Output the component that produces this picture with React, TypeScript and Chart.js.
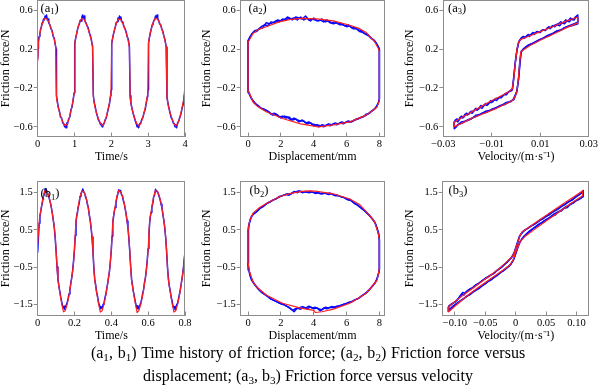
import { useEffect, useRef } from "react";
import { Chart, registerables } from "chart.js";
Chart.register(...registerables);

type Pt = [number, number];

const FONT = '"Liberation Serif", "Times New Roman", serif';
const GRAY = "#8c8c8c";
const BLUE = "#0a0aff";
const RED = "#ff2020";
const W = 600;
const H = 392;

// ---------- tick values / labels ----------
const aTimeTicks = [0, 1, 2, 3, 4];
const aTimeLabels = ["0", "1", "2", "3", "4"];
const bTimeTicks = [0, 0.2, 0.4, 0.6, 0.8];
const bTimeLabels = ["0", "0.2", "0.4", "0.6", "0.8"];
const dispTicks = [0, 2, 4, 6, 8];
const dispLabels = ["0", "2", "4", "6", "8"];
const aVelTicks = [-0.03, -0.01, 0.01, 0.03];
const aVelLabels = ["\u22120.03", "\u22120.01", "0.01", "0.03"];
const bVelTicks = [-0.1, -0.05, 0, 0.05, 0.1];
const bVelLabels = ["\u22120.10", "\u22120.05", "0", "0.05", "0.10"];
const aForceTicks = [-0.6, -0.2, 0.2, 0.6];
const aForceLabels = ["\u22120.6", "\u22120.2", "0.2", "0.6"];
const bForceTicks = [-1.5, -0.5, 0.5, 1.5];
const bForceLabels = ["\u22121.5", "\u22120.5", "0.5", "1.5"];

// ---------- (a1) time history, fitted (red) ----------
const a1Red: Pt[] = [
  [0, 0.08], [0.02, 0.27], [0.05, 0.34], [0.1, 0.43], [0.15, 0.49], [0.2, 0.52], [0.25, 0.51], [0.3, 0.48], [0.35, 0.43], [0.4, 0.37], [0.45, 0.3], [0.49, 0.22],
  [0.51, -0.3], [0.55, -0.39], [0.6, -0.46], [0.65, -0.52], [0.7, -0.565], [0.75, -0.59], [0.8, -0.57], [0.85, -0.52], [0.9, -0.44], [0.95, -0.35], [0.99, -0.25],
  [1.01, 0.27], [1.05, 0.35], [1.1, 0.43], [1.15, 0.49], [1.2, 0.515], [1.25, 0.51], [1.3, 0.475], [1.35, 0.43], [1.4, 0.37], [1.45, 0.3], [1.49, 0.22],
  [1.51, -0.29], [1.55, -0.39], [1.6, -0.46], [1.65, -0.52], [1.7, -0.56], [1.75, -0.585], [1.8, -0.565], [1.85, -0.515], [1.9, -0.44], [1.95, -0.35], [1.99, -0.25],
  [2.01, 0.27], [2.05, 0.34], [2.1, 0.42], [2.15, 0.48], [2.2, 0.51], [2.25, 0.505], [2.3, 0.475], [2.35, 0.43], [2.4, 0.37], [2.45, 0.3], [2.49, 0.22],
  [2.51, -0.3], [2.55, -0.4], [2.6, -0.47], [2.65, -0.53], [2.7, -0.575], [2.75, -0.59], [2.8, -0.565], [2.85, -0.51], [2.9, -0.44], [2.95, -0.35], [2.99, -0.25],
  [3.01, 0.27], [3.05, 0.35], [3.1, 0.43], [3.15, 0.49], [3.2, 0.52], [3.25, 0.51], [3.3, 0.48], [3.35, 0.43], [3.4, 0.37], [3.45, 0.3], [3.49, 0.22],
  [3.51, -0.3], [3.55, -0.39], [3.6, -0.46], [3.65, -0.52], [3.7, -0.565], [3.75, -0.59], [3.8, -0.57], [3.85, -0.52], [3.9, -0.44], [3.95, -0.35], [4.0, -0.24],
];

// ---------- (a1) time history, measured (blue) ----------
const a1Blue: Pt[] = [
  [0, 0.1], [0.01, 0.2], [0.02, 0.29], [0.04, 0.33], [0.06, 0.36], [0.08, 0.41], [0.1, 0.43], [0.12, 0.47], [0.14, 0.48], [0.16, 0.51], [0.18, 0.5], [0.2, 0.54], [0.22, 0.52], [0.24, 0.55], [0.26, 0.5], [0.28, 0.51], [0.3, 0.47], [0.33, 0.45], [0.36, 0.41], [0.39, 0.39], [0.42, 0.33], [0.45, 0.31], [0.48, 0.24], [0.5, 0.2],
  [0.51, -0.28], [0.53, -0.33], [0.56, -0.4], [0.59, -0.44], [0.62, -0.5], [0.65, -0.51], [0.68, -0.56], [0.71, -0.57], [0.73, -0.6], [0.75, -0.58], [0.77, -0.61], [0.79, -0.56], [0.81, -0.57], [0.84, -0.52], [0.87, -0.5], [0.9, -0.43], [0.93, -0.4], [0.96, -0.33], [0.99, -0.25],
  [1.0, -0.22], [1.01, 0.25], [1.03, 0.31], [1.06, 0.36], [1.08, 0.4], [1.11, 0.44], [1.13, 0.46], [1.16, 0.5], [1.18, 0.49], [1.2, 0.53], [1.22, 0.55], [1.24, 0.52], [1.26, 0.54], [1.28, 0.49], [1.31, 0.47], [1.34, 0.44], [1.37, 0.42], [1.4, 0.37], [1.43, 0.34], [1.46, 0.29], [1.49, 0.23],
  [1.51, -0.27], [1.53, -0.34], [1.56, -0.39], [1.59, -0.45], [1.62, -0.49], [1.65, -0.53], [1.68, -0.55], [1.71, -0.58], [1.73, -0.57], [1.75, -0.6], [1.77, -0.58], [1.8, -0.57], [1.83, -0.53], [1.86, -0.51], [1.89, -0.46], [1.92, -0.41], [1.95, -0.36], [1.98, -0.28], [1.99, -0.24],
  [2.0, -0.22], [2.01, 0.26], [2.03, 0.3], [2.06, 0.36], [2.08, 0.39], [2.11, 0.43], [2.13, 0.47], [2.16, 0.48], [2.18, 0.52], [2.2, 0.5], [2.22, 0.54], [2.24, 0.51], [2.26, 0.53], [2.28, 0.48], [2.31, 0.48], [2.34, 0.43], [2.37, 0.41], [2.4, 0.38], [2.43, 0.33], [2.46, 0.3], [2.49, 0.23],
  [2.51, -0.28], [2.53, -0.35], [2.56, -0.41], [2.59, -0.46], [2.62, -0.5], [2.65, -0.54], [2.68, -0.57], [2.7, -0.6], [2.72, -0.58], [2.74, -0.61], [2.77, -0.57], [2.8, -0.56], [2.83, -0.52], [2.86, -0.5], [2.89, -0.45], [2.92, -0.42], [2.95, -0.35], [2.98, -0.29], [2.99, -0.24],
  [3.0, -0.22], [3.01, 0.26], [3.03, 0.31], [3.06, 0.37], [3.08, 0.4], [3.11, 0.45], [3.13, 0.46], [3.16, 0.5], [3.18, 0.51], [3.2, 0.54], [3.22, 0.52], [3.24, 0.55], [3.26, 0.51], [3.28, 0.5], [3.31, 0.46], [3.34, 0.45], [3.37, 0.41], [3.4, 0.38], [3.43, 0.33], [3.46, 0.29], [3.49, 0.22],
  [3.51, -0.29], [3.53, -0.34], [3.56, -0.4], [3.59, -0.45], [3.62, -0.5], [3.65, -0.52], [3.68, -0.56], [3.71, -0.57], [3.73, -0.6], [3.75, -0.58], [3.77, -0.61], [3.8, -0.56], [3.83, -0.54], [3.86, -0.5], [3.89, -0.47], [3.92, -0.41], [3.95, -0.37], [3.98, -0.28], [4.0, -0.2],
];

// ---------- (a2) force vs displacement ----------
const a2Red: Pt[] = [
  [0, -0.21], [0, 0.27], [0.3, 0.36], [0.6, 0.4], [1.1, 0.43], [1.9, 0.48], [2.6, 0.505], [3.2, 0.515], [4.2, 0.51], [5.2, 0.49], [6.2, 0.445], [6.8, 0.41], [7.2, 0.37], [7.7, 0.28], [7.95, 0.2], [8, 0.18],
  [8, -0.33], [7.85, -0.4], [7.2, -0.48], [6.2, -0.55], [5.2, -0.58], [4.3, -0.6], [3.2, -0.57], [2.1, -0.515], [1.1, -0.445], [0.5, -0.38], [0.3, -0.345], [0.05, -0.24], [0, -0.21],
];
const a2BlueCycle1: Pt[] = [
  [0, -0.22], [0, 0.28], [0.15, 0.33], [0.3, 0.37], [0.5, 0.38], [0.7, 0.41], [0.9, 0.42], [1.1, 0.47], [1.3, 0.46], [1.5, 0.47], [1.7, 0.49], [1.9, 0.48], [2.1, 0.51], [2.3, 0.5], [2.5, 0.52], [2.7, 0.5], [2.9, 0.53], [3.1, 0.52], [3.3, 0.51], [3.5, 0.54], [3.7, 0.5], [3.9, 0.51], [4.1, 0.5], [4.3, 0.49], [4.5, 0.51], [4.7, 0.48], [4.9, 0.49], [5.1, 0.47], [5.3, 0.48], [5.5, 0.46], [5.7, 0.46], [5.9, 0.44], [6.1, 0.45], [6.3, 0.42], [6.5, 0.42], [6.7, 0.4], [6.9, 0.39], [7.1, 0.36], [7.3, 0.35], [7.5, 0.31], [7.7, 0.29], [7.85, 0.25], [7.95, 0.22], [8, 0.19],
  [8, -0.32], [7.9, -0.37], [7.7, -0.42], [7.5, -0.44], [7.3, -0.47], [7.1, -0.49], [6.9, -0.5], [6.7, -0.52], [6.5, -0.53], [6.3, -0.55], [6.1, -0.54], [5.9, -0.56], [5.7, -0.55], [5.5, -0.57], [5.3, -0.56], [5.1, -0.58], [4.9, -0.57], [4.7, -0.59], [4.5, -0.58], [4.3, -0.6], [4.1, -0.58], [3.9, -0.57], [3.7, -0.55], [3.5, -0.56], [3.3, -0.53], [3.1, -0.55], [2.9, -0.52], [2.7, -0.53], [2.5, -0.5], [2.3, -0.51], [2.1, -0.49], [1.9, -0.5], [1.7, -0.47], [1.5, -0.48], [1.3, -0.45], [1.1, -0.43], [0.9, -0.42], [0.7, -0.4], [0.5, -0.37], [0.3, -0.33], [0.15, -0.29], [0.05, -0.25], [0, -0.22],
];
const a2BlueCycle2: Pt[] = [
  [0, 0.29], [0.1, 0.32], [0.2, 0.35], [0.4, 0.39], [0.6, 0.4], [0.8, 0.43], [1.0, 0.45], [1.2, 0.44], [1.4, 0.48], [1.6, 0.47], [1.8, 0.5], [2.0, 0.49], [2.2, 0.5], [2.4, 0.53], [2.6, 0.51], [2.8, 0.52], [3.0, 0.5], [3.2, 0.53], [3.4, 0.5], [3.6, 0.52], [3.8, 0.49], [4.0, 0.52], [4.2, 0.49], [4.4, 0.5], [4.6, 0.48], [4.8, 0.5], [5.0, 0.47], [5.2, 0.46], [5.4, 0.47], [5.6, 0.45], [5.8, 0.45], [6.0, 0.43], [6.2, 0.44], [6.4, 0.41], [6.6, 0.41], [6.8, 0.38], [7.0, 0.37], [7.2, 0.35], [7.4, 0.33], [7.6, 0.3], [7.8, 0.26], [7.9, 0.23], [8, 0.2],
  [8, -0.31], [7.95, -0.35], [7.8, -0.4], [7.6, -0.43], [7.4, -0.46], [7.2, -0.47], [7.0, -0.5], [6.8, -0.51], [6.6, -0.52], [6.4, -0.54], [6.2, -0.55], [6.0, -0.55], [5.8, -0.57], [5.6, -0.56], [5.4, -0.58], [5.2, -0.57], [5.0, -0.59], [4.8, -0.58], [4.6, -0.6], [4.4, -0.59], [4.2, -0.58], [4.0, -0.59], [3.8, -0.56], [3.6, -0.57], [3.4, -0.54], [3.2, -0.54], [3.0, -0.53], [2.8, -0.51], [2.6, -0.53], [2.4, -0.5], [2.2, -0.49], [2.0, -0.51], [1.8, -0.48], [1.6, -0.46], [1.4, -0.47], [1.2, -0.44], [1.0, -0.42], [0.8, -0.41], [0.6, -0.38], [0.4, -0.36], [0.2, -0.31], [0.1, -0.27], [0, -0.23], [0, 0.29],
];

// ---------- (a3) force vs velocity ----------
const a3Red: Pt[] = [
  [-0.0015, -0.21], [-0.0009, -0.1], [-0.0003, 0.05], [0.0004, 0.2], [0.001, 0.27], [0.002, 0.3], [0.005, 0.33], [0.01, 0.38], [0.015, 0.43], [0.02, 0.48], [0.0255, 0.53],
  [0.0255, 0.47], [0.02, 0.41], [0.015, 0.35], [0.01, 0.29], [0.006, 0.24], [0.003, 0.19], [0.002, 0.17], [0.0016, 0.08], [0.001, -0.1], [0.0003, -0.25], [-0.001, -0.32],
  [-0.003, -0.35], [-0.008, -0.41], [-0.013, -0.46], [-0.018, -0.51], [-0.022, -0.56], [-0.0255, -0.6],
  [-0.0255, -0.55], [-0.02, -0.47], [-0.015, -0.4], [-0.01, -0.33], [-0.006, -0.28], [-0.003, -0.24], [-0.0015, -0.21],
];
const a3BlueCycle1: Pt[] = [
  [-0.0015, -0.22], [-0.001, -0.12], [-0.0004, 0.04], [0.0003, 0.18], [0.001, 0.26], [0.002, 0.31], [0.003, 0.33], [0.004, 0.32], [0.005, 0.35], [0.006, 0.34], [0.007, 0.37], [0.008, 0.36], [0.009, 0.38], [0.01, 0.37], [0.011, 0.4], [0.012, 0.39], [0.013, 0.42], [0.014, 0.41], [0.015, 0.44], [0.016, 0.43], [0.017, 0.45], [0.018, 0.44], [0.019, 0.47], [0.02, 0.46], [0.021, 0.49], [0.022, 0.48], [0.023, 0.51], [0.024, 0.5], [0.025, 0.54], [0.0255, 0.52],
  [0.0255, 0.48], [0.024, 0.46], [0.022, 0.44], [0.02, 0.42], [0.018, 0.39], [0.016, 0.37], [0.014, 0.34], [0.012, 0.32], [0.01, 0.3], [0.008, 0.27], [0.006, 0.25], [0.004, 0.22], [0.003, 0.2], [0.002, 0.16], [0.0015, 0.05], [0.001, -0.12], [0.0003, -0.24], [-0.001, -0.31],
  [-0.002, -0.34], [-0.004, -0.35], [-0.006, -0.38], [-0.008, -0.4], [-0.01, -0.42], [-0.012, -0.45], [-0.014, -0.46], [-0.016, -0.49], [-0.018, -0.51], [-0.02, -0.53], [-0.022, -0.56], [-0.024, -0.58], [-0.025, -0.61], [-0.0255, -0.59],
  [-0.0255, -0.55], [-0.025, -0.53], [-0.024, -0.55], [-0.023, -0.5], [-0.022, -0.51], [-0.021, -0.47], [-0.02, -0.48], [-0.019, -0.45], [-0.018, -0.46], [-0.017, -0.42], [-0.016, -0.43], [-0.015, -0.4], [-0.014, -0.41], [-0.013, -0.37], [-0.012, -0.38], [-0.011, -0.35], [-0.01, -0.35], [-0.009, -0.32], [-0.008, -0.33], [-0.007, -0.3], [-0.006, -0.3], [-0.005, -0.27], [-0.004, -0.27], [-0.003, -0.24], [-0.002, -0.23], [-0.0015, -0.22],
];
const a3BlueCycle2: Pt[] = [
  [-0.0015, -0.21], [-0.0009, -0.08], [-0.0002, 0.08], [0.0005, 0.2], [0.0012, 0.28], [0.0025, 0.32], [0.0035, 0.31], [0.0045, 0.34], [0.0055, 0.33], [0.0065, 0.36], [0.0075, 0.35], [0.0085, 0.38], [0.0095, 0.37], [0.0105, 0.39], [0.0115, 0.4], [0.0125, 0.4], [0.0135, 0.43], [0.0145, 0.42], [0.0155, 0.44], [0.0165, 0.45], [0.0175, 0.46], [0.0185, 0.48], [0.0195, 0.47], [0.0205, 0.5], [0.0215, 0.49], [0.0225, 0.52], [0.0235, 0.5], [0.0245, 0.53], [0.0255, 0.55],
  [0.0255, 0.46], [0.023, 0.44], [0.021, 0.43], [0.019, 0.4], [0.017, 0.39], [0.015, 0.36], [0.013, 0.34], [0.011, 0.31], [0.009, 0.29], [0.007, 0.26], [0.005, 0.24], [0.0035, 0.21], [0.0022, 0.18], [0.0017, 0.06], [0.0011, -0.1], [0.0004, -0.23], [-0.0008, -0.32],
  [-0.0025, -0.34], [-0.0045, -0.37], [-0.0065, -0.38], [-0.0085, -0.41], [-0.0105, -0.43], [-0.0125, -0.44], [-0.0145, -0.47], [-0.0165, -0.48], [-0.0185, -0.52], [-0.0205, -0.54], [-0.0225, -0.55], [-0.0245, -0.59], [-0.0255, -0.62],
  [-0.0255, -0.56], [-0.0245, -0.52], [-0.0235, -0.53], [-0.0225, -0.49], [-0.0215, -0.5], [-0.0205, -0.46], [-0.0195, -0.47], [-0.0185, -0.44], [-0.0175, -0.44], [-0.0165, -0.41], [-0.0155, -0.42], [-0.0145, -0.38], [-0.0135, -0.39], [-0.0125, -0.36], [-0.0115, -0.37], [-0.0105, -0.33], [-0.0095, -0.34], [-0.0085, -0.31], [-0.0075, -0.31], [-0.0065, -0.29], [-0.0055, -0.28], [-0.0045, -0.26], [-0.0035, -0.25], [-0.0025, -0.23], [-0.0015, -0.21],
];

// ---------- (b1) time history ----------
const b1Red: Pt[] = [
  [0, 0.15], [0.005, 0.5], [0.01, 0.82], [0.02, 1.12], [0.03, 1.4], [0.04, 1.56], [0.05, 1.53], [0.06, 1.42], [0.07, 1.22], [0.08, 0.93], [0.09, 0.58], [0.095, 0.32], [0.1, -0.05], [0.105, -0.52], [0.11, -0.86], [0.12, -1.18], [0.13, -1.47], [0.14, -1.7], [0.15, -1.67], [0.16, -1.5], [0.17, -1.25], [0.18, -0.95], [0.19, -0.6], [0.195, -0.35],
  [0.2, 0.0], [0.205, 0.5], [0.21, 0.82], [0.22, 1.12], [0.23, 1.4], [0.24, 1.55], [0.25, 1.53], [0.26, 1.42], [0.27, 1.22], [0.28, 0.93], [0.29, 0.58], [0.295, 0.32], [0.3, -0.05], [0.305, -0.52], [0.31, -0.86], [0.32, -1.18], [0.33, -1.47], [0.34, -1.71], [0.35, -1.67], [0.36, -1.5], [0.37, -1.25], [0.38, -0.95], [0.39, -0.6], [0.395, -0.35],
  [0.4, 0.0], [0.405, 0.5], [0.41, 0.82], [0.42, 1.12], [0.43, 1.4], [0.44, 1.56], [0.45, 1.52], [0.46, 1.42], [0.47, 1.22], [0.48, 0.93], [0.49, 0.58], [0.495, 0.32], [0.5, -0.05], [0.505, -0.52], [0.51, -0.86], [0.52, -1.18], [0.53, -1.47], [0.54, -1.72], [0.55, -1.66], [0.56, -1.5], [0.57, -1.25], [0.58, -0.95], [0.59, -0.6], [0.595, -0.35],
  [0.6, 0.0], [0.605, 0.5], [0.61, 0.82], [0.62, 1.12], [0.63, 1.4], [0.64, 1.56], [0.65, 1.53], [0.66, 1.42], [0.67, 1.22], [0.68, 0.93], [0.69, 0.58], [0.695, 0.32], [0.7, -0.05], [0.705, -0.52], [0.71, -0.86], [0.72, -1.18], [0.73, -1.47], [0.74, -1.71], [0.75, -1.67], [0.76, -1.5], [0.77, -1.25], [0.78, -0.95], [0.79, -0.6], [0.795, -0.35], [0.8, -0.05],
];
const b1Blue: Pt[] = [
  [0, -0.1], [0.004, 0.3], [0.008, 0.68], [0.012, 0.86], [0.016, 0.98], [0.02, 1.1], [0.025, 1.22], [0.03, 1.38], [0.035, 1.45], [0.04, 1.6], [0.045, 1.52], [0.05, 1.55], [0.055, 1.46], [0.06, 1.4], [0.065, 1.3], [0.07, 1.2], [0.075, 1.08], [0.08, 0.92], [0.085, 0.75], [0.09, 0.56], [0.095, 0.28], [0.1, -0.08], [0.105, -0.5], [0.11, -0.82], [0.115, -1.0], [0.12, -1.15], [0.125, -1.3], [0.13, -1.42], [0.135, -1.55], [0.14, -1.6], [0.143, -1.55], [0.146, -1.63], [0.15, -1.58], [0.155, -1.52], [0.16, -1.46], [0.165, -1.35], [0.17, -1.22], [0.175, -1.1], [0.18, -0.92], [0.185, -0.78], [0.19, -0.58], [0.195, -0.32],
  [0.2, 0.0], [0.204, 0.35], [0.208, 0.7], [0.212, 0.88], [0.216, 0.96], [0.22, 1.12], [0.225, 1.2], [0.23, 1.4], [0.235, 1.47], [0.24, 1.52], [0.245, 1.6], [0.25, 1.52], [0.255, 1.48], [0.26, 1.38], [0.265, 1.32], [0.27, 1.18], [0.275, 1.1], [0.28, 0.9], [0.285, 0.76], [0.29, 0.55], [0.295, 0.3], [0.3, -0.06], [0.305, -0.52], [0.31, -0.84], [0.315, -0.98], [0.32, -1.17], [0.325, -1.28], [0.33, -1.44], [0.335, -1.52], [0.34, -1.62], [0.343, -1.56], [0.346, -1.6], [0.35, -1.6], [0.355, -1.5], [0.36, -1.47], [0.365, -1.33], [0.37, -1.23], [0.375, -1.08], [0.38, -0.94], [0.385, -0.76], [0.39, -0.6], [0.395, -0.33],
  [0.4, -0.02], [0.404, 0.33], [0.408, 0.7], [0.412, 0.85], [0.416, 0.99], [0.42, 1.1], [0.425, 1.23], [0.43, 1.37], [0.435, 1.46], [0.44, 1.58], [0.445, 1.53], [0.45, 1.56], [0.455, 1.45], [0.46, 1.41], [0.465, 1.29], [0.47, 1.2], [0.475, 1.07], [0.48, 0.93], [0.485, 0.74], [0.49, 0.57], [0.495, 0.27], [0.5, -0.08], [0.505, -0.49], [0.51, -0.83], [0.515, -1.0], [0.52, -1.16], [0.525, -1.29], [0.53, -1.43], [0.535, -1.54], [0.54, -1.61], [0.543, -1.54], [0.546, -1.62], [0.55, -1.57], [0.555, -1.53], [0.56, -1.45], [0.565, -1.36], [0.57, -1.21], [0.575, -1.11], [0.58, -0.91], [0.585, -0.79], [0.59, -0.57], [0.595, -0.31],
  [0.6, 0.0], [0.604, 0.34], [0.608, 0.69], [0.612, 0.87], [0.616, 0.97], [0.62, 1.11], [0.625, 1.21], [0.63, 1.39], [0.635, 1.44], [0.64, 1.59], [0.645, 1.53], [0.65, 1.54], [0.655, 1.47], [0.66, 1.39], [0.665, 1.31], [0.67, 1.19], [0.675, 1.09], [0.68, 0.91], [0.685, 0.76], [0.69, 0.55], [0.695, 0.29], [0.7, -0.07], [0.705, -0.51], [0.71, -0.81], [0.715, -1.01], [0.72, -1.14], [0.725, -1.31], [0.73, -1.41], [0.735, -1.56], [0.74, -1.59], [0.743, -1.56], [0.746, -1.64], [0.75, -1.57], [0.755, -1.51], [0.76, -1.47], [0.765, -1.34], [0.77, -1.23], [0.775, -1.09], [0.78, -0.93], [0.785, -0.77], [0.79, -0.59], [0.795, -0.33], [0.8, -0.1],
];

// ---------- (b2) force vs displacement ----------
const b2Red: Pt[] = [
  [0, -0.35], [0, 0.5], [0.1, 0.75], [0.3, 0.95], [0.7, 1.1], [1.1, 1.21], [1.9, 1.39], [2.6, 1.48], [3.2, 1.53], [3.6, 1.55], [4.1, 1.54], [5.2, 1.47], [6.2, 1.33], [6.8, 1.18], [7.2, 0.99], [7.7, 0.73], [7.92, 0.42], [8, 0.25],
  [8, -0.55], [7.85, -0.86], [7.2, -1.2], [6.2, -1.47], [5.2, -1.63], [4.5, -1.7], [4.1, -1.72], [4.0, -1.66], [3.2, -1.6], [2.1, -1.47], [1.1, -1.25], [0.5, -1.02], [0.3, -0.9], [0.07, -0.59], [0, -0.35],
];
const b2BlueCycle1: Pt[] = [
  [0, -0.4], [0, 0.45], [0.05, 0.6], [0.15, 0.8], [0.3, 0.92], [0.5, 0.98], [0.7, 1.08], [0.9, 1.12], [1.1, 1.2], [1.3, 1.24], [1.5, 1.3], [1.7, 1.33], [1.9, 1.4], [2.1, 1.42], [2.3, 1.45], [2.5, 1.43], [2.7, 1.5], [2.9, 1.52], [3.1, 1.55], [3.3, 1.5], [3.5, 1.53], [3.7, 1.5], [3.9, 1.52], [4.1, 1.48], [4.3, 1.5], [4.5, 1.46], [4.7, 1.49], [4.9, 1.45], [5.1, 1.47], [5.3, 1.42], [5.5, 1.42], [5.7, 1.38], [5.9, 1.36], [6.1, 1.3], [6.3, 1.29], [6.5, 1.2], [6.7, 1.16], [6.9, 1.08], [7.1, 1.02], [7.3, 0.93], [7.5, 0.84], [7.7, 0.72], [7.8, 0.62], [7.9, 0.48], [7.97, 0.35], [8, 0.2],
  [8, -0.55], [7.95, -0.68], [7.85, -0.82], [7.7, -0.95], [7.5, -1.05], [7.3, -1.15], [7.1, -1.22], [6.9, -1.28], [6.7, -1.35], [6.5, -1.38], [6.3, -1.44], [6.1, -1.45], [5.9, -1.5], [5.7, -1.52], [5.5, -1.55], [5.3, -1.58], [5.1, -1.56], [4.9, -1.6], [4.7, -1.58], [4.5, -1.65], [4.3, -1.62], [4.1, -1.58], [3.9, -1.6], [3.7, -1.55], [3.5, -1.6], [3.3, -1.56], [3.1, -1.6], [2.9, -1.62], [2.7, -1.66], [2.5, -1.58], [2.3, -1.54], [2.1, -1.48], [1.9, -1.47], [1.7, -1.42], [1.5, -1.38], [1.3, -1.33], [1.1, -1.25], [0.9, -1.2], [0.7, -1.12], [0.5, -1.02], [0.3, -0.9], [0.15, -0.75], [0.05, -0.58], [0, -0.4],
];
const b2BlueCycle2: Pt[] = [
  [0, 0.48], [0.1, 0.72], [0.2, 0.86], [0.4, 0.96], [0.6, 1.02], [0.8, 1.1], [1.0, 1.16], [1.2, 1.23], [1.4, 1.27], [1.6, 1.32], [1.8, 1.36], [2.0, 1.4], [2.2, 1.44], [2.4, 1.47], [2.6, 1.46], [2.8, 1.53], [3.0, 1.5], [3.2, 1.54], [3.4, 1.52], [3.6, 1.51], [3.8, 1.54], [4.0, 1.5], [4.2, 1.51], [4.4, 1.47], [4.6, 1.5], [4.8, 1.47], [5.0, 1.49], [5.2, 1.44], [5.4, 1.44], [5.6, 1.4], [5.8, 1.38], [6.0, 1.33], [6.2, 1.32], [6.4, 1.24], [6.6, 1.19], [6.8, 1.12], [7.0, 1.05], [7.2, 0.97], [7.4, 0.88], [7.6, 0.78], [7.75, 0.68], [7.85, 0.55], [7.95, 0.42], [8, 0.25],
  [8, -0.58], [7.9, -0.75], [7.8, -0.88], [7.6, -1.0], [7.4, -1.1], [7.2, -1.19], [7.0, -1.25], [6.8, -1.32], [6.6, -1.36], [6.4, -1.41], [6.2, -1.44], [6.0, -1.48], [5.8, -1.5], [5.6, -1.54], [5.4, -1.55], [5.2, -1.59], [5.0, -1.58], [4.8, -1.62], [4.6, -1.6], [4.4, -1.68], [4.2, -1.6], [4.0, -1.62], [3.8, -1.57], [3.6, -1.62], [3.4, -1.58], [3.2, -1.63], [3.0, -1.6], [2.8, -1.7], [2.6, -1.62], [2.4, -1.56], [2.2, -1.51], [2.0, -1.49], [1.8, -1.44], [1.6, -1.4], [1.4, -1.36], [1.2, -1.29], [1.0, -1.23], [0.8, -1.17], [0.6, -1.08], [0.4, -0.97], [0.2, -0.84], [0.1, -0.7], [0, -0.42], [0, 0.48],
];

// ---------- (b3) force vs velocity ----------
const b3Red: Pt[] = [
  [-0.006, -0.22], [-0.003, -0.15], [0.0, 0.0], [0.003, 0.15], [0.006, 0.3], [0.01, 0.44], [0.02, 0.55], [0.04, 0.78], [0.06, 1.0], [0.08, 1.22], [0.1, 1.44], [0.11, 1.55],
  [0.11, 1.42], [0.09, 1.2], [0.07, 0.97], [0.05, 0.74], [0.03, 0.5], [0.015, 0.32], [0.008, 0.2], [0.005, 0.1], [0.0, -0.1], [-0.004, -0.3], [-0.01, -0.45],
  [-0.02, -0.57], [-0.04, -0.8], [-0.06, -1.03], [-0.08, -1.27], [-0.1, -1.55], [-0.11, -1.7],
  [-0.11, -1.56], [-0.09, -1.3], [-0.07, -1.06], [-0.05, -0.82], [-0.03, -0.58], [-0.015, -0.36], [-0.006, -0.22],
];
const b3BlueCycle1: Pt[] = [
  [-0.006, -0.23], [-0.003, -0.14], [0.0, 0.02], [0.003, 0.17], [0.006, 0.32], [0.01, 0.42], [0.015, 0.5], [0.02, 0.54], [0.025, 0.6], [0.03, 0.64], [0.035, 0.7], [0.04, 0.76], [0.045, 0.8], [0.05, 0.87], [0.055, 0.9], [0.06, 0.97], [0.065, 1.02], [0.07, 1.06], [0.075, 1.13], [0.08, 1.17], [0.085, 1.23], [0.09, 1.28], [0.095, 1.33], [0.1, 1.4], [0.105, 1.45], [0.11, 1.52],
  [0.11, 1.38], [0.105, 1.34], [0.1, 1.3], [0.095, 1.22], [0.09, 1.2], [0.085, 1.1], [0.08, 1.08], [0.075, 1.01], [0.07, 0.99], [0.065, 0.9], [0.06, 0.87], [0.055, 0.82], [0.05, 0.78], [0.045, 0.7], [0.04, 0.67], [0.035, 0.6], [0.03, 0.55], [0.025, 0.48], [0.02, 0.42], [0.015, 0.35], [0.01, 0.25], [0.006, 0.14], [0.003, 0.02], [0.0, -0.12], [-0.004, -0.32], [-0.01, -0.46],
  [-0.015, -0.52], [-0.02, -0.6], [-0.025, -0.64], [-0.03, -0.72], [-0.035, -0.77], [-0.04, -0.84], [-0.045, -0.88], [-0.05, -0.95], [-0.055, -1.0], [-0.06, -1.07], [-0.065, -1.12], [-0.07, -1.17], [-0.075, -1.24], [-0.08, -1.28], [-0.085, -1.35], [-0.09, -1.4], [-0.095, -1.47], [-0.1, -1.52], [-0.105, -1.6], [-0.11, -1.66],
  [-0.11, -1.55], [-0.105, -1.48], [-0.1, -1.44], [-0.095, -1.36], [-0.09, -1.24], [-0.087, -1.18], [-0.083, -1.2], [-0.08, -1.15], [-0.075, -1.08], [-0.07, -1.05], [-0.065, -0.97], [-0.06, -0.93], [-0.055, -0.86], [-0.05, -0.8], [-0.045, -0.76], [-0.04, -0.7], [-0.035, -0.66], [-0.03, -0.58], [-0.025, -0.52], [-0.02, -0.45], [-0.015, -0.38], [-0.01, -0.29], [-0.006, -0.23],
];
const b3BlueCycle2: Pt[] = [
  [-0.006, -0.21], [-0.002, -0.1], [0.001, 0.05], [0.004, 0.2], [0.007, 0.35], [0.012, 0.45], [0.017, 0.51], [0.022, 0.57], [0.027, 0.62], [0.032, 0.67], [0.037, 0.72], [0.042, 0.79], [0.047, 0.83], [0.052, 0.88], [0.057, 0.95], [0.062, 0.99], [0.067, 1.05], [0.072, 1.09], [0.077, 1.15], [0.082, 1.2], [0.087, 1.26], [0.092, 1.3], [0.097, 1.37], [0.102, 1.42], [0.107, 1.48], [0.111, 1.56],
  [0.111, 1.4], [0.107, 1.35], [0.102, 1.3], [0.097, 1.27], [0.092, 1.2], [0.087, 1.15], [0.082, 1.12], [0.077, 1.06], [0.072, 1.0], [0.067, 0.96], [0.062, 0.92], [0.057, 0.85], [0.052, 0.79], [0.047, 0.75], [0.042, 0.69], [0.037, 0.64], [0.032, 0.58], [0.027, 0.52], [0.022, 0.46], [0.017, 0.38], [0.012, 0.3], [0.007, 0.18], [0.004, 0.05], [0.001, -0.1], [-0.003, -0.28], [-0.008, -0.43],
  [-0.013, -0.5], [-0.018, -0.57], [-0.023, -0.62], [-0.028, -0.69], [-0.033, -0.74], [-0.038, -0.8], [-0.043, -0.86], [-0.048, -0.91], [-0.053, -0.98], [-0.058, -1.03], [-0.063, -1.09], [-0.068, -1.14], [-0.073, -1.2], [-0.078, -1.26], [-0.083, -1.31], [-0.088, -1.37], [-0.093, -1.43], [-0.098, -1.49], [-0.103, -1.55], [-0.108, -1.62], [-0.111, -1.69],
  [-0.111, -1.58], [-0.107, -1.52], [-0.102, -1.46], [-0.097, -1.4], [-0.092, -1.3], [-0.088, -1.22], [-0.085, -1.25], [-0.082, -1.17], [-0.078, -1.12], [-0.073, -1.08], [-0.068, -1.01], [-0.063, -0.96], [-0.058, -0.9], [-0.053, -0.84], [-0.048, -0.79], [-0.043, -0.73], [-0.038, -0.69], [-0.033, -0.62], [-0.028, -0.56], [-0.023, -0.5], [-0.018, -0.42], [-0.013, -0.35], [-0.008, -0.26], [-0.006, -0.21],
];

// ---------- panel layout ----------
interface Panel {
  letter: string;
  sub: string;
  area: [number, number, number, number]; // left, top, right, bottom (px)
  xRange: [number, number];
  yRange: [number, number];
  xTicks: number[];
  xLabels: string[];
  yTicks: number[];
  yLabels: string[];
  xTitle: string;
  yTitleX: number;
  xTitleY: number;
  labelPos: [number, number];
  blue: Pt[][];
  red: Pt[][];
}

const Y_TITLE = "Friction force/N";
const panels: Panel[] = [
  {
    letter: "a", sub: "1", area: [37.7, 0.5, 185, 136.5], xRange: [0, 4], yRange: [-0.7, 0.7],
    xTicks: aTimeTicks, xLabels: aTimeLabels, yTicks: aForceTicks, yLabels: aForceLabels,
    xTitle: "Time/s", yTitleX: 5.5, xTitleY: 157, labelPos: [40.5, 11.5], blue: [a1Blue], red: [a1Red],
  },
  {
    letter: "a", sub: "2", area: [240.7, 0.5, 384.3, 136.5], xRange: [-0.45, 8.3], yRange: [-0.7, 0.7],
    xTicks: dispTicks, xLabels: dispLabels, yTicks: aForceTicks, yLabels: aForceLabels,
    xTitle: "Displacement/mm", yTitleX: 207, xTitleY: 157, labelPos: [248.5, 11.5], blue: [a2BlueCycle1, a2BlueCycle2], red: [a2Red],
  },
  {
    letter: "a", sub: "3", area: [443.3, 0.5, 588.7, 136.5], xRange: [-0.03, 0.03], yRange: [-0.7, 0.7],
    xTicks: aVelTicks, xLabels: aVelLabels, yTicks: aForceTicks, yLabels: aForceLabels,
    xTitle: "Velocity/(m\u00B7s\u207B\u00B9)", yTitleX: 410, xTitleY: 157, labelPos: [448, 11.5], blue: [a3BlueCycle1, a3BlueCycle2], red: [a3Red],
  },
  {
    letter: "b", sub: "1", area: [37.7, 181.5, 185, 315.5], xRange: [0, 0.8], yRange: [-1.8, 1.8],
    xTicks: bTimeTicks, xLabels: bTimeLabels, yTicks: bForceTicks, yLabels: bForceLabels,
    xTitle: "Time/s", yTitleX: 5.5, xTitleY: 335.5, labelPos: [40.5, 197], blue: [b1Blue], red: [b1Red],
  },
  {
    letter: "b", sub: "2", area: [240.7, 181.5, 384.3, 315.5], xRange: [-0.45, 8.3], yRange: [-1.8, 1.8],
    xTicks: dispTicks, xLabels: dispLabels, yTicks: bForceTicks, yLabels: bForceLabels,
    xTitle: "Displacement/mm", yTitleX: 207, xTitleY: 335.5, labelPos: [249.5, 194], blue: [b2BlueCycle1, b2BlueCycle2], red: [b2Red],
  },
  {
    letter: "b", sub: "3", area: [442.7, 181.5, 588.7, 315.5], xRange: [-0.12, 0.12], yRange: [-1.8, 1.8],
    xTicks: bVelTicks, xLabels: bVelLabels, yTicks: bForceTicks, yLabels: bForceLabels,
    xTitle: "Velocity/(m\u00B7s\u207B\u00B9)", yTitleX: 410, xTitleY: 335.5, labelPos: [448.5, 194], blue: [b3BlueCycle1, b3BlueCycle2], red: [b3Red],
  },
];

const framePlugin = {
  id: "frame",
  afterDatasetsDraw(chart: any, _args: any, opts: any) {
    const { ctx, chartArea: a } = chart;
    ctx.save();
    ctx.strokeStyle = GRAY;
    ctx.lineWidth = 1;
    const l = Math.floor(a.left) + 0.5;
    const t = Math.floor(a.top) + 0.5;
    const r = Math.ceil(a.right) - 0.5;
    const b = Math.ceil(a.bottom) - 0.5;
    ctx.strokeRect(l, t, r - l, b - t);
    ctx.fillStyle = "#000";
    ctx.textAlign = "left";
    ctx.textBaseline = "alphabetic";
    let x = opts.x;
    const y = opts.y;
    ctx.font = `12.5px ${FONT}`;
    const head = "(" + opts.letter;
    ctx.fillText(head, x, y);
    x += ctx.measureText(head).width;
    ctx.font = `8.5px ${FONT}`;
    ctx.fillText(opts.sub, x, y + 2.5);
    x += ctx.measureText(opts.sub).width;
    ctx.font = `12.5px ${FONT}`;
    ctx.fillText(")", x, y);
    ctx.restore();
  },
};

function buildConfig(p: Panel): any {
  const [L, T, R, B] = p.area;
  const titleLH = 12 * 1.2;
  const padL = p.yTitleX - titleLH / 2;
  const yW = L - padL;
  const xH = p.xTitleY - B + titleLH / 2;
  const padB = H - B - xH;
  const lineDs = (d: Pt[], color: string, width: number) => ({
    data: d.map(([x, y]) => ({ x, y })),
    borderColor: color,
    backgroundColor: color,
    borderWidth: width,
    showLine: true,
    pointRadius: 0,
    pointHoverRadius: 0,
    tension: 0,
    fill: false,
    borderJoinStyle: "round",
    borderCapStyle: "round",
  });
  const datasets = [
    ...p.red.map((d) => lineDs(d, RED, 1.2)),
    ...p.blue.map((d) => lineDs(d, BLUE, 1.5)),
  ];
  const tickFont = { family: FONT, size: 10.5, lineHeight: 1.2 };
  const titleFont = { family: FONT, size: 12, lineHeight: 1.2 };
  const zeroPad = (s: any) => {
    s.paddingLeft = 0;
    s.paddingRight = 0;
    s.paddingTop = 0;
    s.paddingBottom = 0;
  };
  return {
    type: "scatter",
    data: { datasets },
    options: {
      responsive: false,
      animation: false,
      devicePixelRatio: 1,
      events: [],
      layout: { autoPadding: false, padding: { left: padL, top: T, right: W - R, bottom: padB } },
      plugins: {
        legend: { display: false },
        tooltip: { enabled: false },
        frame: { letter: p.letter, sub: p.sub, x: p.labelPos[0], y: p.labelPos[1] },
      },
      scales: {
        x: {
          type: "linear",
          position: "bottom",
          min: p.xRange[0],
          max: p.xRange[1],
          afterBuildTicks: (s: any) => {
            s.ticks = p.xTicks.map((v) => ({ value: v }));
          },
          afterFit: (s: any) => {
            s.height = xH;
            zeroPad(s);
          },
          ticks: {
            autoSkip: false,
            maxRotation: 0,
            minRotation: 0,
            padding: 5.8,
            color: "#000",
            font: tickFont,
            callback: (_v: any, i: number) => p.xLabels[i],
          },
          grid: { drawOnChartArea: false, drawTicks: true, tickLength: -4, color: GRAY, lineWidth: 1 },
          border: { display: false },
          title: { display: true, text: p.xTitle, color: "#000", font: titleFont, padding: 0 },
        },
        y: {
          type: "linear",
          position: "left",
          min: p.yRange[0],
          max: p.yRange[1],
          afterBuildTicks: (s: any) => {
            s.ticks = p.yTicks.map((v) => ({ value: v }));
          },
          afterFit: (s: any) => {
            s.width = yW;
            zeroPad(s);
          },
          ticks: {
            autoSkip: false,
            padding: 1,
            color: "#000",
            font: tickFont,
            callback: (_v: any, i: number) => p.yLabels[i],
          },
          grid: { drawOnChartArea: false, drawTicks: true, tickLength: 4, color: GRAY, lineWidth: 1 },
          border: { display: false },
          title: { display: true, text: Y_TITLE, color: "#000", font: titleFont, padding: 0 },
        },
      },
    },
    plugins: [framePlugin],
  };
}

function PanelChart({ panel }: { panel: Panel }) {
  const ref = useRef<HTMLCanvasElement | null>(null);
  useEffect(() => {
    if (!ref.current) return;
    const chart = new Chart(ref.current, buildConfig(panel));
    return () => chart.destroy();
  }, [panel]);
  return (
    <canvas
      ref={ref}
      width={W}
      height={H}
      style={{ position: "absolute", left: 0, top: 0, width: W, height: H, pointerEvents: "none" }}
    />
  );
}

const subStyle: any = { fontSize: "0.7em", verticalAlign: "-0.25em", lineHeight: 0 };

export default function App() {
  return (
    <div
      style={{
        position: "absolute",
        left: 0,
        top: 0,
        width: W,
        height: H,
        background: "#fff",
        overflow: "hidden",
        fontFamily: FONT,
        color: "#000",
      }}
    >
      {panels.map((p) => (
        <PanelChart key={p.letter + p.sub} panel={p} />
      ))}
      <div
        style={{
          position: "absolute",
          left: 308,
          top: 343,
          transform: "translateX(-50%)",
          whiteSpace: "nowrap",
          fontSize: 16,
          lineHeight: "20px",
          wordSpacing: 0.8,
        }}
      >
        (a<sub style={subStyle}>1</sub>, b<sub style={subStyle}>1</sub>) Time history of friction force; (a
        <sub style={subStyle}>2</sub>, b<sub style={subStyle}>2</sub>) Friction force versus
      </div>
      <div
        style={{
          position: "absolute",
          left: 308,
          top: 366,
          transform: "translateX(-50%)",
          whiteSpace: "nowrap",
          fontSize: 16,
          lineHeight: "20px",
        }}
      >
        displacement; (a<sub style={subStyle}>3</sub>, b<sub style={subStyle}>3</sub>) Friction force versus velocity
      </div>
    </div>
  );
}
